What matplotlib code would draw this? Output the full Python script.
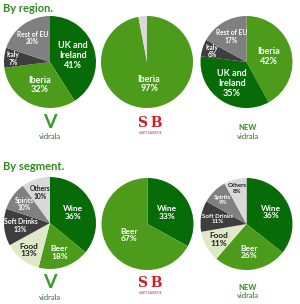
import numpy as np
import matplotlib.pyplot as plt

# data
region_vidrala_labels = ["UK and\nIreland", "Iberia", "Italy", "Rest of EU"]
region_vidrala = [41, 32, 7, 20]
region_sb_labels = ["Iberia", ""]
region_sb = [97, 3]
region_new_labels = ["Iberia", "UK and\nIreland", "Italy", "Rest of EU"]
region_new = [42, 35, 6, 17]

segment_labels = ["Wine", "Beer", "Food", "Soft Drinks", "Spirits", "Others"]
segment_vidrala = [36, 18, 13, 13, 10, 10]
segment_sb_labels = ["Wine", "Beer"]
segment_sb = [33, 67]
segment_new = [36, 26, 11, 11, 9, 8]

DKGREEN = "#076b07"
GREEN = "#4c9b1b"
DKGRAY = "#3e3e3e"
GRAY = "#808080"
LTGRAY = "#d9d9d9"
FOOD = "#dfe8c7"
TITLE = "#2f8a1f"

W, H = 300, 304
fig = plt.figure(figsize=(3, 3.04), dpi=100)
plt.rcParams["font.family"] = ["Lato", "DejaVu Sans"]


def ftext(x, y, s, **kw):
    fig.text(x / W, 1 - y / H, s, **kw)


def pie(cx, cy, r, values, labels, colors, dists, sizes, tcolors):
    ax = fig.add_axes([(cx - r) / W, 1 - (cy + r) / H, 2 * r / W, 2 * r / H])
    wedges, _ = ax.pie(values, colors=colors, startangle=90, counterclock=False,
                       wedgeprops=dict(linewidth=0))
    ax.set_xlim(-1, 1)
    ax.set_ylim(-1, 1)
    ax.axis("off")
    for w, lab, v, d, s, c in zip(wedges, labels, values, dists, sizes, tcolors):
        if not lab:
            continue
        t = np.deg2rad((w.theta1 + w.theta2) / 2)
        ax.text(d * np.cos(t), d * np.sin(t), f"{lab}\n{v}%", ha="center", va="center",
                fontsize=s, color=c, fontweight="bold", linespacing=1.1)


ftext(3, 8, "By region.", fontsize=8, fontweight="bold", color=TITLE, va="center")
ftext(3, 166, "By segment.", fontsize=8, fontweight="bold", color=TITLE, va="center")

W_ = "white"
pie(50, 62, 46, region_vidrala, region_vidrala_labels, [DKGREEN, GREEN, DKGRAY, GRAY],
    [0.52, 0.55, 0.8, 0.65], [6.5, 6.5, 4.8, 4.8], [W_, W_, W_, W_])
pie(147, 62, 46, region_sb, region_sb_labels, [GREEN, LTGRAY],
    [0.48, 0], [6.5, 6.5], [W_, W_])
pie(246.5, 62, 46, region_new, region_new_labels, [GREEN, DKGREEN, DKGRAY, GRAY],
    [0.5, 0.56, 0.78, 0.64], [6.5, 6.5, 4.8, 4.8], [W_, W_, W_, W_])

seg_colors = [DKGREEN, GREEN, FOOD, DKGRAY, GRAY, LTGRAY]
seg_tc = [W_, W_, "#222222", W_, W_, "#222222"]
pie(50, 223, 46, segment_vidrala, segment_labels, seg_colors,
    [0.55, 0.67, 0.74, 0.64, 0.7, 0.7], [6, 6, 6, 4.9, 4.9, 4.9], seg_tc)
pie(147.5, 224, 46, segment_sb, segment_sb_labels, [DKGREEN, GREEN],
    [0.49, 0.47], [6, 6], [W_, W_])
pie(246.5, 224, 46, segment_new, segment_labels, seg_colors,
    [0.6, 0.61, 0.68, 0.63, 0.74, 0.8], [6, 6, 6, 4.4, 4.4, 4.4], seg_tc)

# logos
for y0 in (0, 160):
    ftext(50, 123 + y0, "V", fontsize=14, fontweight="bold", color="#3a9a2a", ha="center", va="center")
    ftext(50, 137 + y0, "vidrala", fontsize=5.5, color="#3d6b3d", ha="center", va="center")
    ftext(150, 123 + y0, "S\u2009B", fontsize=10, fontweight="bold", color="#c8202a", ha="center",
          va="center", family="DejaVu Serif")
    ftext(150, 132.5 + y0, "SANTOS BARROSA", fontsize=1.8, color="#c8202a", ha="center", va="center")
    ftext(248, 127 + y0, "NEW", fontsize=5.5, fontweight="bold", color="#2f8a1f", ha="center", va="center")
    ftext(248, 136 + y0, "vidrala", fontsize=5.5, color="#2f6b2f", ha="center", va="center")

fig.savefig("out.png", dpi=100)
